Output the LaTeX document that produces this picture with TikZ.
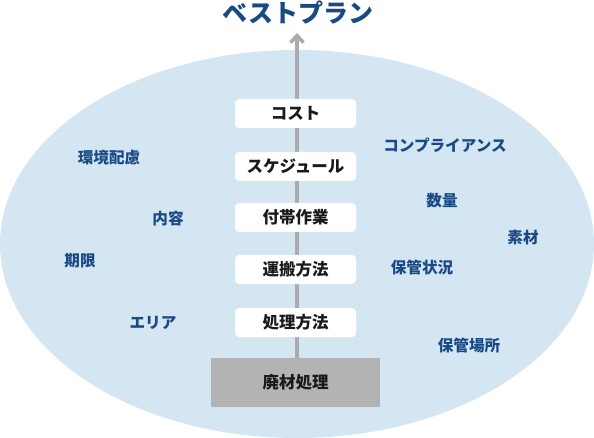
\documentclass[tikz,border=0pt]{standalone}
\usepackage{fontspec}
\setmainfont{Noto Sans CJK JP}
\usetikzlibrary{arrows.meta}
\definecolor{ellfill}{HTML}{D5E6F3}
\definecolor{navy}{HTML}{1A4A86}
\definecolor{arrowgray}{HTML}{ABABAB}
\definecolor{basegray}{HTML}{B3B3B3}
\definecolor{txt}{HTML}{1A1A1A}
\pgfdeclarelayer{layerA}
\pgfdeclarelayer{layerB}
\pgfsetlayers{layerA,layerB,main}
\tikzset{
  stagebox/.style={fill=white, rounded corners=4pt, minimum width=121pt, minimum height=29pt,
    inner sep=0pt, text=txt, font=\fontsize{16.5}{18}\selectfont\bfseries},
  basebox/.style={fill=basegray, minimum width=169pt, minimum height=49pt,
    inner sep=0pt, text=txt, font=\fontsize{16.5}{18}\selectfont\bfseries},
  factor/.style={text=navy, inner sep=0pt, font=\fontsize{15.6}{17}\selectfont\bfseries},
  titletext/.style={text=navy, inner sep=0pt, font=\fontsize{25}{27}\selectfont\bfseries},
  flow/.style={draw=arrowgray, line width=3.5pt, -{Straight Barb[length=7pt,width=13pt]}}
}
\begin{document}
\begin{tikzpicture}[x=1pt,y=-1pt]
\useasboundingbox (0,0) rectangle (594,438);
\begin{pgfonlayer}{layerA}
\fill[ellfill] (297,244) ellipse [x radius=297, y radius=194];
\end{pgfonlayer}
\node[titletext] (title) at (298,13) {ベストプラン};
\coordinate (tip) at (297,33);
\node[basebox] (base) at (295.5,382.5) {廃材処理};
\node[stagebox] (s1) at (295.5,113.5) {コスト};
\node[stagebox] (s2) at (295.5,166.5) {スケジュール};
\node[stagebox] (s3) at (295.5,217.5) {付帯作業};
\node[stagebox] (s4) at (295.5,269.5) {運搬方法};
\node[stagebox] (s5) at (295.5,322.5) {処理方法};
\begin{pgfonlayer}{layerB}
\draw[flow] (base.north -| tip) -- (tip);
\end{pgfonlayer}
\node[factor] (f1) at (109,158) {環境配慮};
\node[factor] (f2) at (168,219) {内容};
\node[factor] (f3) at (80,261) {期限};
\node[factor] (f4) at (153,323) {エリア};
\node[factor] (f5) at (445,145) {コンプライアンス};
\node[factor] (f6) at (442,201) {数量};
\node[factor] (f7) at (523,238) {素材};
\node[factor] (f8) at (422,268) {保管状況};
\node[factor] (f9) at (469,346) {保管場所};
\end{tikzpicture}
\end{document}
